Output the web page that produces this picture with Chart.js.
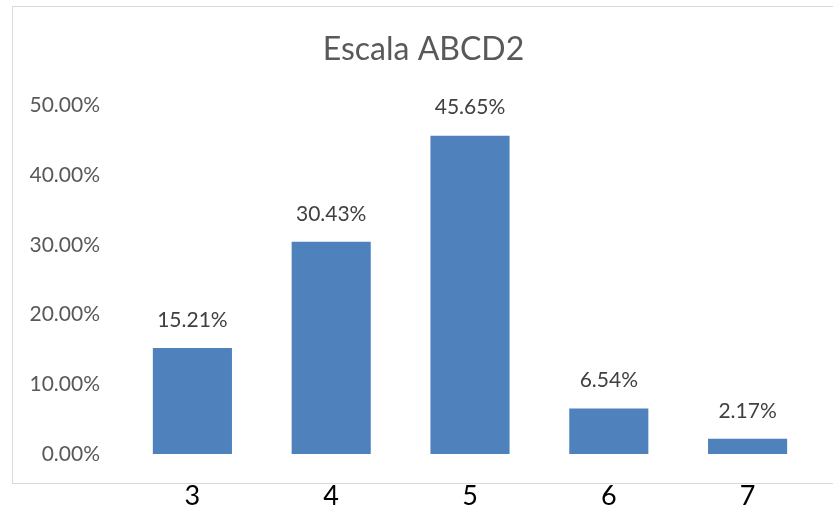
<!DOCTYPE html>
<html>
<head>
<meta charset="utf-8">
<script src="https://cdn.jsdelivr.net/npm/chart.js@4/dist/chart.umd.min.js"></script>
<style>
  html, body { margin: 0; padding: 0; background: #fff; overflow: hidden; }
  #frame { position: absolute; left: 12px; top: 6px; width: 900px; height: 476px; border: 1px solid #d9d9d9; }
  #wrap { position: absolute; left: 0; top: 0; width: 833px; height: 512px; }
</style>
</head>
<body>
<div id="frame"></div>
<div id="wrap"><canvas id="chart"></canvas></div>
<script>
const categories = ["3", "4", "5", "6", "7"];
const percentages = [15.21, 30.43, 45.65, 6.54, 2.17];
const yTicks = [0, 10, 20, 30, 40, 50];

// value labels above each bar
const barLabels = {
  id: "barLabels",
  afterDatasetsDraw(chart) {
    const ctx = chart.ctx;
    const meta = chart.getDatasetMeta(0);
    ctx.save();
    ctx.font = "21px Lato";
    ctx.fillStyle = "#404040";
    ctx.textAlign = "center";
    ctx.textBaseline = "middle";
    meta.data.forEach((bar, i) => {
      ctx.fillText(percentages[i].toFixed(2) + "%", bar.x, bar.y - 28);
    });
    ctx.restore();
  }
};

new Chart(document.getElementById("chart"), {
  type: "bar",
  data: {
    labels: categories,
    datasets: [{
      data: percentages,
      backgroundColor: "#4f81bd",
      barPercentage: 0.57,
      categoryPercentage: 1
    }]
  },
  options: {
    responsive: true,
    maintainAspectRatio: false,
    animation: false,
    layout: { padding: { left: 30, right: 16, top: 30, bottom: 0 } },
    plugins: {
      legend: { display: false },
      tooltip: { enabled: false },
      title: {
        display: true,
        text: "Escala ABCD2",
        color: "#595959",
        font: { family: "Lato", size: 32, weight: "normal" },
        padding: { top: 0, bottom: 37 }
      }
    },
    scales: {
      x: {
        afterFit: axis => { axis.height = 58; },
        grid: { display: false, drawTicks: false },
        border: { display: false },
        ticks: { color: "#000", font: { family: "Lato", size: 27 }, padding: 26 }
      },
      y: {
        min: 0,
        max: 50,
        afterFit: axis => { axis.width = 93; },
        afterBuildTicks: axis => { axis.ticks = yTicks.map(v => ({ value: v })); },
        grid: { display: false, drawTicks: false },
        border: { display: false },
        ticks: {
          color: "#595959",
          font: { family: "Lato", size: 21 },
          padding: 23,
          callback: v => v.toFixed(2) + "%"
        }
      }
    }
  },
  plugins: [barLabels]
});
</script>
</body>
</html>
